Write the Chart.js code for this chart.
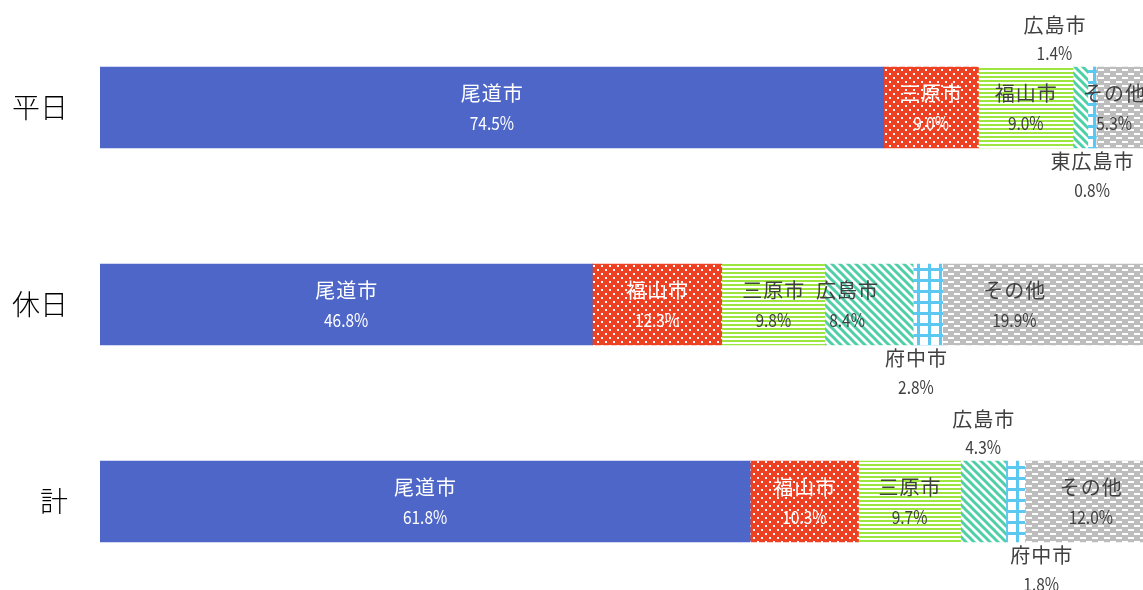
<!DOCTYPE html>
<html>
<head>
<meta charset="utf-8">
<script src="https://cdn.jsdelivr.net/npm/chart.js@4.4.1/dist/chart.umd.min.js"></script>
<style>
  html, body { margin: 0; padding: 0; background: #fff; overflow: hidden; }
  #wrap { width: 1143px; height: 590px; overflow: hidden; }
</style>
</head>
<body>
<div id="wrap"><canvas id="share" width="1152" height="600"></canvas></div>
<script>
// rows
let rows = ["平日", "休日", "計"];

// city name in each stacked slot, per row
let names1 = ["尾道市", "尾道市", "尾道市"];
let names2 = ["三原市", "福山市", "福山市"];
let names3 = ["福山市", "三原市", "三原市"];
let names4 = ["広島市", "広島市", "広島市"];
let names5 = ["東広島市", "府中市", "府中市"];
let names6 = ["その他", "その他", "その他"];

// shares (%)
let share1 = [74.5, 46.8, 61.8];
let share2 = [9.0, 12.3, 10.3];
let share3 = [9.0, 9.8, 9.7];
let share4 = [1.4, 8.4, 4.3];
let share5 = [0.8, 2.8, 1.8];
let share6 = [5.3, 19.9, 12.0];

// where each label sits: inside / above / below, plus a small x nudge
let labelPlace = [
    ["in", "in", "in"],
    ["in", "in", "in"],
    ["in", "in", "in"],
    ["above", "in", "above"],
    ["below", "below", "below"],
    ["in", "in", "in"],
];
let labelNudge = [
    [0, 0, 0],
    [0, 0, 0],
    [0, 0, 0],
    [-26, -22, 0],
    [0, -12, 26],
    [-10, -33, 3],
];


function makePattern(w, h, bg, fg, draw) {
    let c = document.createElement("canvas");
    c.width = w;
    c.height = h;
    let g = c.getContext("2d");
    g.fillStyle = bg;
    g.fillRect(0, 0, w, h);
    g.fillStyle = fg;
    g.strokeStyle = fg;
    draw(g);
    return g.createPattern(c, "repeat");
}

let redDots = makePattern(8, 8, "#ee4124", "#ffffff", g => {
    g.fillRect(1, 1, 2, 2);
    g.fillRect(5, 5, 2, 2);
});
let greenLines = makePattern(4, 4, "#ffffff", "#9fe53f", g => {
    g.fillRect(0, 0, 4, 2);
});
let tealDiag = makePattern(8, 8, "#ffffff", "#4fcfa8", g => {
    g.lineWidth = 3;
    for (let k = -8; k <= 8; k += 8) {
        g.beginPath();
        g.moveTo(k - 2, -2);
        g.lineTo(k + 10, 10);
        g.stroke();
    }
});
let blueGrid = makePattern(11, 11, "#ffffff", "#5bc8f2", g => {
    g.fillRect(4, 0, 3, 11);
    g.fillRect(0, 4, 11, 3);
});
let grayDash = makePattern(12, 8, "#bdbdbd", "#ffffff", g => {
    g.fillRect(0, 1, 6, 2);
    g.fillRect(6, 5, 6, 2);
});

let fills = ["#4e66c8", redDots, greenLines, tealDiag, blueGrid, grayDash];
let textCols = ["#ffffff", "#ffffff", "#404040", "#404040", "#404040", "#404040"];
let allNames = [names1, names2, names3, names4, names5, names6];
let allShares = [share1, share2, share3, share4, share5, share6];

let shareData = {
    labels: rows,
    datasets: allShares.map((s, i) => ({
        label: "slot" + (i + 1),
        data: s,
        backgroundColor: fills[i],
        borderWidth: 0,
        barThickness: 81,
    })),
};


let segLabels = {
    id: "segLabels",
    afterDatasetsDraw(chart) {
        let ctx = chart.ctx;
        ctx.save();
        ctx.textAlign = "center";
        ctx.textBaseline = "middle";
        chart.data.datasets.forEach((ds, i) => {
            chart.getDatasetMeta(i).data.forEach((bar, r) => {
                let cx = (bar.x + bar.base) / 2 + labelNudge[i][r];
                let top = bar.y - bar.height / 2;
                let bot = bar.y + bar.height / 2;
                let place = labelPlace[i][r];
                let y1, y2;
                if (place === "above") {
                    y1 = top - 42; y2 = top - 14;
                    ctx.fillStyle = "#404040";
                } else if (place === "below") {
                    y1 = bot + 13; y2 = bot + 42;
                    ctx.fillStyle = "#404040";
                } else {
                    y1 = bar.y - 14; y2 = bar.y + 16;
                    ctx.fillStyle = textCols[i];
                }
                ctx.font = '20px "Noto Sans CJK JP"';
                ctx.letterSpacing = "1px";
                ctx.fillText(allNames[i][r], cx + 0.5, y1);
                // percent digits are narrow in the original, squeeze them a bit
                ctx.letterSpacing = "0px";
                ctx.font = '18px "Noto Sans CJK JP"';
                ctx.save();
                ctx.translate(cx, y2);
                ctx.scale(0.86, 1);
                ctx.fillText(ds.data[r].toFixed(1) + "%", 0, 0);
                ctx.restore();
            });
        });
        ctx.restore();
    },
};


let shareOptions = {
    indexAxis: "y",
    responsive: false,
    animation: false,
    devicePixelRatio: 1,
    layout: { padding: { top: 9, right: 0, bottom: 0, left: 0 } },
    plugins: {
        legend: { display: false },
        tooltip: { enabled: false },
    },
    scales: {
        x: {
            stacked: true,
            min: 0,
            max: 100,
            display: false,
        },
        y: {
            stacked: true,
            grid: { display: false, drawTicks: false },
            border: { display: false },
            afterFit: s => {
                s.width = 100;
                s.paddingTop = 0;
                s.paddingBottom = 0;
            },
            ticks: {
                padding: 32,
                color: "#000000",
                font: { family: '"Noto Sans CJK JP"', size: 28, weight: "300" },
            },
        },
    },
};


let shareChart = new Chart(
    document.getElementById("share"), {
        type: "bar",
        data: shareData,
        options: shareOptions,
        plugins: [segLabels],
    }
);
</script>
</body>
</html>
